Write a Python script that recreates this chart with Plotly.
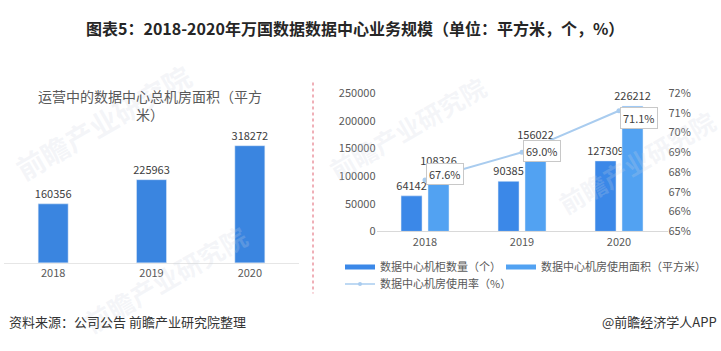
import plotly.graph_objects as go

W, H = 721, 351

years = ["2018", "2019", "2020"]
total_area = [160356, 225963, 318272]
racks = [64142, 90385, 127309]
used_area = [108326, 156022, 226212]
usage_rate = [67.6, 69.0, 71.1]

left_title = "运营中的数据中心总机房面积（平方<br>米）"
name_racks = "数据中心机柜数量（个）"
name_area = "数据中心机房使用面积（平方米）"
name_rate = "数据中心机房使用率（%）"
main_title = "图表5：2018-2020年万国数据数据中心业务规模（单位：平方米，个，%）"
source_text = "资料来源：公司公告 前瞻产业研究院整理"
brand_text = "@前瞻经济学人APP"

C_LEFT = "#3A85E0"
C_RACK = "#3B88E8"
C_AREA = "#52A2F2"
C_LINE = "#A9CCEF"
TICK = "#595959"
LBL = "#404040"
FONT = "Noto Sans CJK SC"

def px(x):
    return x / W

def py(y):
    return (H - y) / H

fig = go.Figure()

# Left chart
fig.add_trace(go.Bar(
    x=years, y=total_area, xaxis="x", yaxis="y",
    marker_color=C_LEFT, width=0.305,
    text=[str(v) for v in total_area], textposition="outside",
    textfont=dict(size=11, color=LBL, family=FONT),
    constraintext="none", cliponaxis=False, showlegend=False,
))

# Right chart bars
fig.add_trace(go.Bar(
    x=years, y=racks, xaxis="x2", yaxis="y2",
    marker_color=C_RACK, width=0.2165, offset=-0.247,
    text=[str(v) for v in racks], textposition="outside",
    textfont=dict(size=11, color=LBL, family=FONT),
    constraintext="none", cliponaxis=False, showlegend=False,
))
fig.add_trace(go.Bar(
    x=years, y=used_area, xaxis="x2", yaxis="y2",
    marker_color=C_AREA, width=0.2165, offset=0.031,
    text=[str(v) for v in used_area], textposition="outside",
    textfont=dict(size=11, color=LBL, family=FONT),
    constraintext="none", cliponaxis=False, showlegend=False,
))
fig.add_trace(go.Scatter(
    x=years, y=usage_rate, xaxis="x2", yaxis="y3",
    mode="lines+markers", line=dict(color=C_LINE, width=2),
    marker=dict(color=C_LINE, size=5), showlegend=False, cliponaxis=False,
))

# legend proxies
fig.add_trace(go.Scatter(x=[None], y=[None], xaxis="x2", yaxis="y2", mode="lines",
                         line=dict(color=C_RACK, width=5), name=name_racks, legend="legend"))
fig.add_trace(go.Scatter(x=[None], y=[None], xaxis="x2", yaxis="y2", mode="lines",
                         line=dict(color=C_AREA, width=5), name=name_area, legend="legend3"))
fig.add_trace(go.Scatter(x=[None], y=[None], xaxis="x2", yaxis="y2", mode="lines+markers",
                         line=dict(color=C_LINE, width=1.5), marker=dict(color=C_LINE, size=4),
                         name=name_rate, legend="legend2"))

annotations = []

# watermarks (faint)
for (wx, wy, s) in [(103, 118, 28), (407, 125, 25), (636, 160, 25), (165, 282, 26)]:
    annotations.append(dict(
        x=px(wx), y=py(wy), xref="paper", yref="paper", text="<b>前瞻产业研究院</b>",
        xanchor="center", yanchor="middle",
        showarrow=False, textangle=-30, font=dict(size=s, color="rgba(205,212,224,0.22)", family=FONT),
    ))

# rate labels
yshifts = [6, 1, -7]
for i, (r, ys) in enumerate(zip(usage_rate, yshifts)):
    annotations.append(dict(
        x=i, y=r, xref="x2", yref="y3", text=f"{r:.1f}%", showarrow=False,
        xanchor="left", yanchor="middle", xshift=1, yshift=ys,
        bgcolor="white", bordercolor="#C8C8C8", borderwidth=1, borderpad=2,
        font=dict(size=11, color=LBL, family=FONT),
    ))

annotations += [
    dict(x=px(150), y=py(101), xref="paper", yref="paper", text=left_title, showarrow=False,
         xanchor="center", yanchor="middle", align="center",
         font=dict(size=14, color="#595959", family=FONT)),
    dict(x=px(355), y=py(20), xref="paper", yref="paper", text="<b>" + main_title + "</b>",
         xanchor="center", yanchor="middle", showarrow=False,
         font=dict(size=16, color="#262626", family=FONT)),
    dict(x=px(7), y=py(327), xref="paper", yref="paper", text=source_text, showarrow=False,
         xanchor="left", yanchor="middle", font=dict(size=13, color="#333333", family=FONT)),
    dict(x=px(719), y=py(327), xref="paper", yref="paper", text=brand_text, showarrow=False,
         xanchor="right", yanchor="middle", font=dict(size=13, color="#333333", family=FONT)),
]

shapes = [dict(type="line", xref="paper", yref="paper", x0=px(313), x1=px(313),
               y0=py(77), y1=py(298), line=dict(color="#E06070", width=1, dash="dot"))]

tickfont = dict(size=11, color=TICK, family=FONT)
legfont = dict(size=11, color=TICK, family=FONT)

fig.update_layout(
    width=W, height=H, margin=dict(l=0, r=0, t=0, b=0),
    paper_bgcolor="white", plot_bgcolor="rgba(0,0,0,0)",
    barmode="overlay",
    font=dict(family=FONT),
    xaxis=dict(domain=[px(4), px(299)], anchor="y", type="category", range=[-0.5, 2.5],
               showgrid=False, showline=True, linecolor="#E6E6E6", ticks="", tickfont=tickfont),
    yaxis=dict(domain=[py(266), py(131)], anchor="x", range=[0, 350000], visible=False),
    xaxis2=dict(domain=[px(376.5), px(667.5)], anchor="y2", type="category", range=[-0.5, 2.5],
                showgrid=False, showline=True, linecolor="#D9D9D9", ticks="", tickfont=tickfont),
    yaxis2=dict(domain=[py(233), py(88)], anchor="x2", range=[0, 250000], dtick=50000,
                tickformat="d", showgrid=False, zeroline=False, tickfont=tickfont, ticks=""),
    yaxis3=dict(overlaying="y2", side="right", anchor="x2", range=[65, 72], dtick=1,
                ticksuffix="%", showgrid=False, zeroline=False, tickfont=tickfont, ticks=""),
    legend=dict(orientation="h", x=px(340), y=py(255), xanchor="left", yanchor="top",
                font=legfont, bgcolor="rgba(0,0,0,0)"),
    legend3=dict(orientation="h", x=px(501), y=py(255), xanchor="left", yanchor="top",
                 font=legfont, bgcolor="rgba(0,0,0,0)"),
    legend2=dict(orientation="h", x=px(340), y=py(273), xanchor="left", yanchor="top",
                 font=legfont, bgcolor="rgba(0,0,0,0)"),
    annotations=annotations, shapes=shapes,
)

fig.write_html("out.html")
